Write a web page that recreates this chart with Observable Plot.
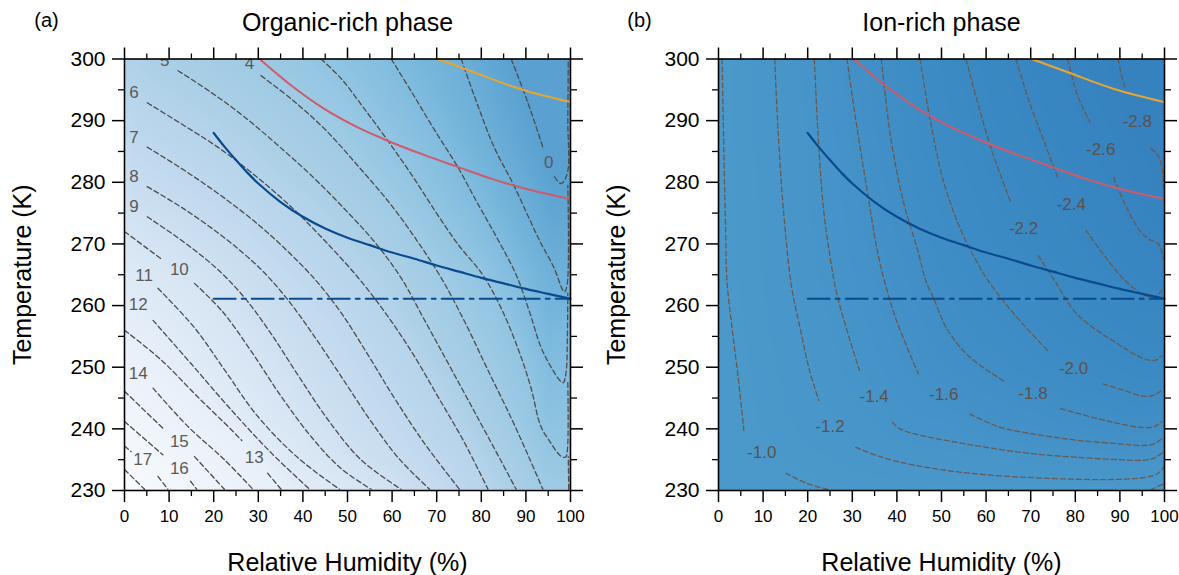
<!DOCTYPE html>
<html><head><meta charset="utf-8">
<script src="https://cdn.jsdelivr.net/npm/d3@7"></script>
<script src="https://cdn.jsdelivr.net/npm/@observablehq/plot@0.6"></script>
<style>
body{margin:0;background:#fff;}
#wrap{display:flex;width:1179px;height:575px;overflow:hidden;}
</style></head><body><div id="wrap"></div>
<script>
// ---- tick values ----
const xMajor = [0,10,20,30,40,50,60,70,80,90,100];
const xMinor = [5,15,25,35,45,55,65,75,85,95];
const yMajor = [230,240,250,260,270,280,290,300];
const yMinor = [235,245,255,265,275,285,295];

// ---- overlay curves (RH %, T K) ----
const navyCurve = [[20,288.0],[22.5,285.7],[25,283.6],[27.5,281.6],[30,279.8],[35,276.8],[40,274.4],[45,272.5],[50,271.0],[55,269.8],[60,268.6],[65,267.6],[70,266.5],[75,265.5],[80,264.5],[85,263.6],[90,262.7],[95,261.9],[100,261.1]];
const redCurve = [[30.3,300],[37.4,295.7],[44.8,291.9],[52.3,288.9],[59.8,286.5],[67.3,284.4],[74.7,282.5],[82.2,280.6],[89.7,279.0],[100,277.3]];
const orangeCurve = [[70.2,300],[78.5,297.8],[88.9,295.1],[100,293.0]];
const dashDotLine = [[20,261.1],[100,261.1]];

// ---- organic-rich phase contours: [value, [segments of [RH,T]]] ----
const organicContours = [
  [0, [[[86.7,300],[90.4,293],[93.8,285.7]], [[96.4,280.9],[97.9,279.8],[99.3,281.5],[99.4,290],[99.5,300]]]],
  [1, [[[75.5,300],[79.2,292.5],[83,285.5],[87.1,279.8],[90.5,274.5],[93.3,270.2],[96.2,266.3],[98.2,262.6],[98.7,262.2],[99.3,263.7],[99.4,279.5]]]],
  [2, [[[59.8,300],[64.5,294.5],[69.5,288.5],[74.7,282.5],[79,276.8],[83.5,271],[87.8,265],[90.8,259],[93.3,253.4],[95.5,250.2],[97.8,247.7],[98.4,247.5],[99,249.1],[99.3,255],[99.4,262]]]],
  [3, [[[44.1,300],[48.6,296.8],[53.8,291.9],[59,286.8],[64.3,281.3],[69.5,275.5],[74.7,270],[80.3,265],[84.5,259.5],[88.5,252.5],[91.2,246.5],[93.3,240.5],[95.5,237.8],[97.8,235.6],[98.9,235.4],[99.3,236.5],[99.4,247.5]], [[99.6,230.2],[99.5,235.5]]]],
  [4, [[[30.6,297.3],[37.4,293.5],[44.8,288.7],[52.3,282.7],[59.8,276.3],[65.8,270.3],[71,264.5],[76.2,257.5],[81.5,249.5],[87,241.3],[90.8,235.2],[93.8,230.2]]]],
  [5, [[[12,298.1],[19.4,294.6],[26.9,290.6],[34.4,286],[41.9,281.1],[49.3,275.7],[56.1,270.3],[62,264.5],[67.3,257.6],[73.2,249.8],[79.2,241.8],[84.5,234.7],[87.8,230.2]]]],
  [6, [[[5.1,292.9],[12.7,289.5],[20.9,285.7],[29.1,281.2],[37.4,276],[44.8,270.6],[52.3,264.6],[58.3,259],[64.3,252.6],[70.3,245.2],[76.2,237.8],[81.5,230.2]]]],
  [7, [[[5.1,285.7],[13.5,281.9],[21.7,277.8],[29.9,273.2],[36.6,268.8],[43,264],[48.6,258.8],[54.6,252],[60.5,245],[67.3,237.6],[75.1,230.2]]]],
  [8, [[[5.1,279.3],[13.5,275.6],[22.4,271],[30,266.3],[36,261.5],[42,255.6],[48.5,248.6],[55,241.5],[61.5,235.2],[68.4,230.2]]]],
  [9, [[[5.1,274.4],[13.5,270.2],[21,265.8],[27,261.2],[33,255.3],[39,248.6],[45.5,241.6],[53,235],[62,230.2]]]],
  [10, [[[0,272],[8.2,267.6]], [[15.7,263.6],[22,259],[28.4,252.6],[35.1,245.3],[42,238.6],[48.5,233.6],[55.3,230.2]]]],
  [11, [[[7.5,262.8],[15.7,256.4],[22.4,249.6],[29.9,242],[38.9,235.3],[48.2,230.2]]]],
  [12, [[[6.4,257.6],[14.9,250.6],[23.9,243.1],[32.9,236.1],[41.5,230.2]]]],
  [13, [[[0,256],[8.2,251.2],[16.4,245.2],[23.9,239.9],[26.3,238.1]], [[32.1,232.8],[35.1,230.2]]]],
  [14, [[[6.4,246.6],[14.2,240.4],[22.4,235],[28.8,230.2]]]],
  [15, [[[0,246.1],[8.6,240.1]], [[15.7,235.5],[22.4,230.2]]]],
  [16, [[[0,241.2],[8.6,235.8]], [[14.8,231.5],[16.2,230.2]]]],
  [17, [[[0,237.2],[1.5,236.3]], [[7.5,232.3],[9.7,230.2]]]],
  [18, [[[0,233.4],[4.5,230.2]]]]
];
const organicLabels = [
  [5,9,299.7],[4,28,299.2],[6,2.1,294.6],[7,2.1,287.2],[8,2.1,280.9],[9,2.1,276],
  [10,12.3,265.8],[11,4.4,264.8],[12,3.1,260.2],[13,29.1,235.4],[14,3.1,249],
  [15,12.3,238],[16,12.3,233.6],[17,4.1,235],[0,95.1,283.2]
];

// ---- ion-rich phase contours ----
const ionContours = [
  [-1.0, [[[0.8,300],[1.2,285],[1.6,272],[1.9,264],[3.1,256],[4.5,247.8],[5.7,239.7]], [[15.1,232.8],[20,231.1],[25,230.1]], [[96.9,230.1],[99.8,231.1]]]],
  [-1.2, [[[12.6,300],[13.4,287.8],[14.7,274.3],[16.4,263],[18.4,256],[20.4,249.5],[22.5,244.6]], [[30.8,237],[36.6,235.4],[44,234.1],[56.4,232.8],[73,232],[89.5,231.8],[96.1,232.2],[98.6,232.8],[99.8,233.8]]]],
  [-1.4, [[[21.5,300],[22.3,288],[23.5,276],[25,268],[26.5,262],[28.8,256],[31.6,249.5]], [[39,241.1],[40.7,240],[45,239],[52,238],[60,237],[70,236],[80,235.4],[90,235],[95.3,234.9],[97.8,235.3],[99.8,236.3]]]],
  [-1.6, [[[28.8,300],[30.7,290.5],[33.1,279.7],[35.6,268.9],[37.2,264],[39.9,257.6],[44.8,248.9]], [[56.4,242.4],[63,240.3],[73,238.9],[81.2,238.1],[89.5,237.6],[95.3,237.3],[97.8,237.6],[99.4,238.4]]]],
  [-1.8, [[[36.5,300],[38.5,287.8],[41.4,277],[44.7,268.9],[46.5,264],[48.1,261.4],[51.4,256],[56.4,251.6],[63.9,247.8]], [[76.7,243.3],[83.7,241.9],[89.5,240.9],[95.3,240.2],[97.8,240.4],[99.4,241.2]]]],
  [-2.0, [[[45.2,300],[47.5,290],[50.5,280],[54.5,272],[58,267],[60.5,264],[66.3,258.6],[73.8,252.7]], [[86.2,247.3],[91.1,246.2],[95.3,245.3],[97.8,245.5],[99.4,246.3]]]],
  [-2.2, [[[55.5,300],[58,293.2],[61.3,285.1],[65.5,276.8]], [[71.7,268.1],[75.4,264],[80.4,258.6],[89.5,253.8],[95.3,251.4],[97.8,251.1],[99.4,251.9]]]],
  [-2.4, [[[66.7,300],[69.6,293.2],[72.9,286.8],[76.2,280.5]], [[82.4,272.2],[86.2,268.4],[91.1,264.1],[95.7,261.6],[97.8,261.4],[99.4,262.5]]]],
  [-2.6, [[[78.3,300],[80.4,294.3],[83.3,289.7]], [[88.6,280.8],[91.1,276.5],[94.4,272.2],[96.9,270.6],[98.6,270],[99.8,267.5]]]],
  [-2.8, [[[89.6,300],[90.3,297.5],[91.3,295]], [[96.9,285.5],[98.6,284.3],[99.4,282.4],[99.8,279]]]]
];
const ionLabels = [
  ["-1.0",9.7,236.1],["-1.2",25,240.3],["-1.4",34.9,245.2],["-1.6",50.5,245.5],["-1.8",70.5,245.7],
  ["-2.0",79.6,249.8],["-2.2",68.4,272.5],["-2.4",79.1,276.4],["-2.6",85.7,285.3],["-2.8",93.9,289.9]
];

// ---- helpers ----
const toPts = arr => arr.map(([rh, t]) => ({rh, t}));
function flatten(contours) {
  const out = [];
  contours.forEach(([v, segs], i) => segs.forEach((seg, j) => seg.forEach(([rh, t]) => out.push({rh, t, v, id: i + "-" + j}))));
  return out;
}
const FONT = "'Liberation Sans', Arial, Helvetica, sans-serif";

function panel(o) {
  const pts = flatten(o.contours);
  const labs = o.labels.map(([v, rh, t]) => ({v: +v, txt: String(v), rh, t}));
  const samples = pts.filter(d => d.rh <= o.sampleMaxRH).concat(labs.map(d => ({rh: d.rh, t: d.t, v: d.v})));
  const blank = () => "";
  return Plot.plot({
    width: o.width, height: 575,
    marginLeft: o.marginLeft, marginRight: o.marginRight, marginTop: 58.5, marginBottom: 85,
    style: {fontFamily: FONT, background: "#fff", overflow: "visible"},
    x: {domain: [0, 100]},
    y: {domain: [230, 300]},
    color: {type: "linear", domain: o.colorDomain, range: o.colorRange, interpolate: "rgb", clamp: true},
    marks: [
      Plot.raster(samples, {x: "rh", y: "t", fill: "v", interpolate: "barycentric", x1: 0, x2: 100, y1: 230, y2: 300}),
      Plot.line(pts, {x: "rh", y: "t", z: "id", stroke: o.lineColor, strokeWidth: 1.3, strokeDasharray: "5,3", curve: "catmull-rom", clip: true}),
      Plot.text(labs, {x: "rh", y: "t", text: "txt", fill: o.labelColor, fontSize: 17, clip: true}),
      Plot.line(toPts(orangeCurve), {x: "rh", y: "t", stroke: "#e8a532", strokeWidth: 2, curve: "catmull-rom", clip: true}),
      Plot.line(toPts(redCurve), {x: "rh", y: "t", stroke: "#cf5a6b", strokeWidth: 2, curve: "catmull-rom", clip: true}),
      Plot.line(toPts(navyCurve), {x: "rh", y: "t", stroke: "#0a4a8f", strokeWidth: 2.2, curve: "catmull-rom", clip: true}),
      Plot.line(toPts(dashDotLine), {x: "rh", y: "t", stroke: "#0a4a8f", strokeWidth: 2, strokeDasharray: "22,6,4,6"}),
      Plot.frame({stroke: "#000", strokeWidth: 1.6}),
      Plot.axisX({ticks: xMajor, anchor: "bottom", tickSize: 12, tickPadding: 7, fontSize: 17, label: null, strokeWidth: 1.5}),
      Plot.axisX({ticks: xMinor, anchor: "bottom", tickSize: 6, tickFormat: blank, label: null, strokeWidth: 1.3}),
      Plot.axisX({ticks: xMajor, anchor: "top", tickSize: 12, tickFormat: blank, label: null, strokeWidth: 1.5}),
      Plot.axisX({ticks: xMinor, anchor: "top", tickSize: 6, tickFormat: blank, label: null, strokeWidth: 1.3}),
      Plot.axisY({ticks: yMajor, anchor: "left", tickSize: 12, tickPadding: 7, fontSize: 21, label: null, strokeWidth: 1.5}),
      Plot.axisY({ticks: yMinor, anchor: "left", tickSize: 6, tickFormat: blank, label: null, strokeWidth: 1.3}),
      Plot.axisY({ticks: yMajor, anchor: "right", tickSize: 12, tickFormat: blank, label: null, strokeWidth: 1.5}),
      Plot.axisY({ticks: yMinor, anchor: "right", tickSize: 6, tickFormat: blank, label: null, strokeWidth: 1.3}),
      Plot.text([o.title], {frameAnchor: "top", dy: -36, lineAnchor: "middle", fontSize: 25, fill: "#000", text: d => d}),
      Plot.text([o.tag], {frameAnchor: "top-left", dx: o.tagDx, dy: -38, lineAnchor: "middle", fontSize: 20, fill: "#000", textAnchor: "middle", text: d => d}),
      Plot.text(["Relative Humidity (%)"], {frameAnchor: "bottom", dy: 72, lineAnchor: "middle", fontSize: 25, fill: "#000", text: d => d}),
      Plot.text(["Temperature (K)"], {frameAnchor: "left", dx: -102, rotate: -90, lineAnchor: "middle", fontSize: 25, fill: "#000", textAnchor: "middle", text: d => d})
    ]
  });
}

const wrap = document.getElementById("wrap");
wrap.append(panel({
  width: 590, marginLeft: 124, marginRight: 20,
  title: "Organic-rich phase", tag: "(a)", tagDx: -78,
  contours: organicContours, labels: organicLabels, sampleMaxRH: 97.5,
  colorDomain: [-1, 0, 1, 2, 3, 4, 5, 6, 8, 10, 13, 16, 19],
  colorRange: ["#4a94c8","#5aa1d1","#6cafd8","#80bcdf","#92c5e2","#a0cbe5","#aacfe6","#b6d4eb","#c7dcf0","#d6e5f4","#e7eff9","#f1f6fc","#f8fbfe"],
  lineColor: "#4d4d4d", labelColor: "#5a5a5a"
}));
wrap.append(panel({
  width: 589, marginLeft: 128, marginRight: 15,
  title: "Ion-rich phase", tag: "(b)", tagDx: -79,
  contours: ionContours, labels: ionLabels, sampleMaxRH: 101,
  colorDomain: [-2.8, -2.2, -1.6, -1.0],
  colorRange: ["#3582bf", "#3b89c3", "#4391c7", "#4b99cb"],
  lineColor: "#675a52", labelColor: "#5c524c"
}));
</script></body></html>
